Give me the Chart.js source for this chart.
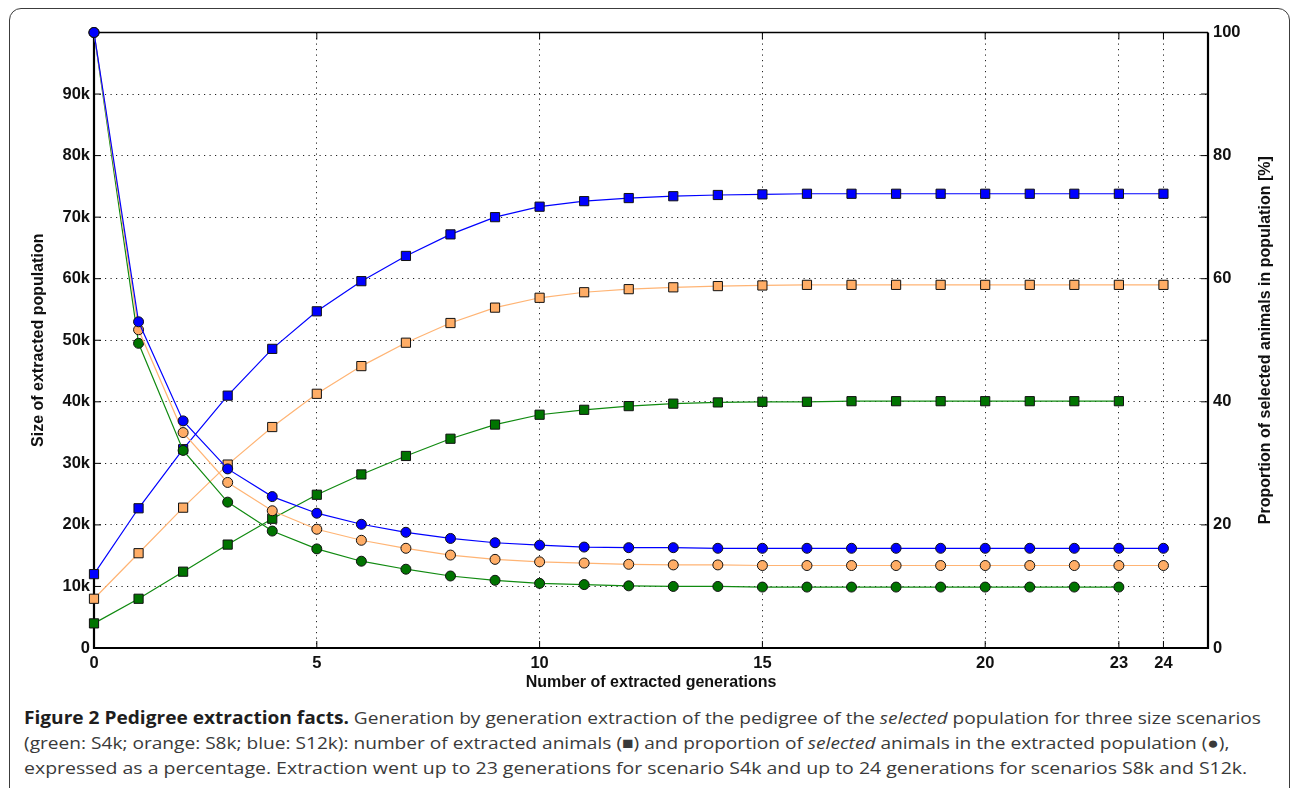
<!DOCTYPE html>
<html>
<head>
<meta charset="utf-8">
<title>Pedigree extraction facts</title>
<script src="https://cdn.jsdelivr.net/npm/chart.js@4.4.1/dist/chart.umd.min.js"></script>
<style>
  html, body { margin: 0; padding: 0; background: #fff; overflow: hidden; }
  body { width: 1292px; height: 788px; position: relative; }
  .box {
    position: absolute; left: 9px; top: 8px; width: 1281px; height: 840px;
    border: 1.5px solid #3c3c3c; border-radius: 12px; box-sizing: border-box;
  }
  #chartWrap { position: absolute; left: 0; top: 0; width: 1292px; height: 700px; }
  .caption {
    position: absolute; left: 24px; top: 705px;
    font-family: "Open Sans", sans-serif; font-size: 17px; line-height: 25px;
    color: #3a3a3a; white-space: nowrap;
    transform: scaleX(1.124); transform-origin: 0 0;
  }
  .caption div { transform-origin: 0 0; }
  .caption .wide { transform: scaleX(1.02); }
  .caption b { color: #1e1e1e; font-weight: 700; }
</style>
</head>
<body>
<div class="box"></div>
<div id="chartWrap"><canvas id="pedigreeChart" width="1292" height="700"></canvas></div>
<div class="caption">
  <div><b>Figure 2 Pedigree extraction facts.</b> Generation by generation extraction of the pedigree of the <i>selected</i> population for three size scenarios</div>
  <div>(green: S4k; orange: S8k; blue: S12k): number of extracted animals (&#9632;) and proportion of <i>selected</i> animals in the extracted population (&#9679;),</div>
  <div class="wide">expressed as a percentage. Extraction went up to 23 generations for scenario S4k and up to 24 generations for scenarios S8k and S12k.</div>
</div>

<script>
// ---- data ----
const generations = [0, 1, 2, 3, 4, 5, 6, 7, 8, 9, 10, 11, 12, 13, 14, 15, 16, 17, 18, 19, 20, 21, 22, 23, 24];
const generationsS4k = [0, 1, 2, 3, 4, 5, 6, 7, 8, 9, 10, 11, 12, 13, 14, 15, 16, 17, 18, 19, 20, 21, 22, 23];

// size of extracted population, thousands of animals
const sizeS4k = [4.0, 8.0, 12.4, 16.8, 21.0, 24.9, 28.2, 31.2, 34.0, 36.3, 37.9, 38.7, 39.3, 39.7, 39.9, 40.0, 40.0, 40.1, 40.1, 40.1, 40.1, 40.1, 40.1, 40.1];
const sizeS8k = [8.0, 15.4, 22.8, 29.8, 35.9, 41.3, 45.8, 49.6, 52.8, 55.3, 56.9, 57.8, 58.3, 58.6, 58.8, 58.9, 59.0, 59.0, 59.0, 59.0, 59.0, 59.0, 59.0, 59.0, 59.0];
const sizeS12k = [12.0, 22.7, 32.3, 41.0, 48.6, 54.7, 59.6, 63.7, 67.2, 70.0, 71.7, 72.6, 73.1, 73.4, 73.6, 73.7, 73.8, 73.8, 73.8, 73.8, 73.8, 73.8, 73.8, 73.8, 73.8];

// proportion of selected animals in extracted population, %
const propS4k = [100, 49.5, 32.1, 23.7, 19.0, 16.1, 14.1, 12.8, 11.7, 11.0, 10.5, 10.3, 10.1, 10.0, 10.0, 9.9, 9.9, 9.9, 9.9, 9.9, 9.9, 9.9, 9.9, 9.9];
const propS8k = [100, 51.7, 35.0, 26.9, 22.3, 19.3, 17.5, 16.2, 15.1, 14.4, 14.0, 13.8, 13.6, 13.5, 13.5, 13.4, 13.4, 13.4, 13.4, 13.4, 13.4, 13.4, 13.4, 13.4, 13.4];
const propS12k = [100, 53.0, 36.9, 29.1, 24.6, 21.9, 20.1, 18.8, 17.8, 17.1, 16.7, 16.4, 16.3, 16.3, 16.2, 16.2, 16.2, 16.2, 16.2, 16.2, 16.2, 16.2, 16.2, 16.2, 16.2];

const xTicks = [0, 5, 10, 15, 20, 23, 24];
const leftTicks = [0, 10, 20, 30, 40, 50, 60, 70, 80, 90, 100];
const rightTicks = [0, 10, 20, 30, 40, 50, 60, 70, 80, 90, 100];

// ---- colours ----
const BLUE = { line: "#0000ff", fill: "#0000ff" };
const ORANGE = { line: "#ffb474", fill: "#ffad66" };
const GREEN = { line: "#108a10", fill: "#007400" };

const rightTitle = "Proportion of selected animals in population [%]";

function toPoints(xs, ys) {
  return xs.map((x, i) => ({ x: x, y: ys[i] }));
}

function series(label, xs, ys, col, style, axis, order) {
  return {
    label: label,
    data: toPoints(xs, ys),
    yAxisID: axis,
    order: order,
    borderColor: col.line,
    borderWidth: 1.2,
    backgroundColor: col.fill,
    pointBackgroundColor: col.fill,
    pointBorderColor: "#111",
    pointBorderWidth: 1,
    pointStyle: style,
    pointRadius: style === "rect" ? 6.5 : 5,
    tension: 0,
    fill: false,
    clip: false,
  };
}

const tickFont = { family: "'Liberation Sans', Arial, sans-serif", size: 16.5, weight: "bold" };
const titleFont = { family: "'Liberation Sans', Arial, sans-serif", size: 16, weight: "bold" };
const gridDots = { dash: [1.2, 4.3], display: false };

// frame + inward ticks (matlab look), right title reads bottom-to-top
const framePlugin = {
  id: "frame",
  beforeDatasetsDraw(chart) {
    const { ctx, chartArea: a, scales } = chart;
    ctx.save();
    ctx.strokeStyle = "#000";
    ctx.lineWidth = 1.3;
    ctx.beginPath();
    ctx.moveTo(a.left, a.top);
    ctx.lineTo(a.right, a.top);
    ctx.stroke();

    ctx.lineWidth = 1;
    const tl = 7;
    scales.y.ticks.forEach((t) => {
      const py = scales.y.getPixelForValue(t.value);
      ctx.beginPath(); ctx.moveTo(a.left, py); ctx.lineTo(a.left + tl, py); ctx.stroke();
    });
    scales.y2.ticks.forEach((t) => {
      const py = scales.y2.getPixelForValue(t.value);
      ctx.beginPath(); ctx.moveTo(a.right, py); ctx.lineTo(a.right - tl, py); ctx.stroke();
    });
    scales.x.ticks.forEach((t) => {
      const px = scales.x.getPixelForValue(t.value);
      ctx.beginPath(); ctx.moveTo(px, a.bottom); ctx.lineTo(px, a.bottom - tl); ctx.stroke();
      ctx.beginPath(); ctx.moveTo(px, a.top); ctx.lineTo(px, a.top + tl); ctx.stroke();
    });

    ctx.lineWidth = 2.2;
    ctx.beginPath();
    ctx.moveTo(a.left, a.top);
    ctx.lineTo(a.left, a.bottom);
    ctx.lineTo(a.right, a.bottom);
    ctx.lineTo(a.right, a.top);
    ctx.stroke();
    ctx.restore();
  },
  afterDraw(chart) {
    const { ctx, chartArea: a } = chart;
    ctx.save();
    ctx.translate(chart.width - 26.5, (a.top + a.bottom) / 2);
    ctx.rotate(-Math.PI / 2);
    ctx.font = "bold 16px 'Liberation Sans', Arial, sans-serif";
    ctx.fillStyle = "#111";
    ctx.textAlign = "center";
    ctx.textBaseline = "middle";
    ctx.fillText(rightTitle, 0, 0);
    ctx.restore();
  },
};

new Chart(document.getElementById("pedigreeChart"), {
  type: "line",
  data: {
    datasets: [
      series("S12k selected %", generations, propS12k, BLUE, "circle", "y2", 0),
      series("S8k selected %", generations, propS8k, ORANGE, "circle", "y2", 1),
      series("S4k selected %", generationsS4k, propS4k, GREEN, "circle", "y2", 2),
      series("S4k size", generationsS4k, sizeS4k, GREEN, "rect", "y", 3),
      series("S8k size", generations, sizeS8k, ORANGE, "rect", "y", 4),
      series("S12k size", generations, sizeS12k, BLUE, "rect", "y", 5),
    ],
  },
  options: {
    responsive: false,
    animation: false,
    devicePixelRatio: 1,
    layout: { padding: { top: 32.5, left: 0, right: 0, bottom: 0 } },
    plugins: { legend: { display: false }, tooltip: { enabled: false } },
    scales: {
      x: {
        type: "linear",
        min: 0,
        max: 25,
        afterBuildTicks: (s) => { s.ticks = xTicks.map((v) => ({ value: v })); },
        afterFit: (s) => { s.height = 52; },
        grid: { color: "#222", lineWidth: 1, drawTicks: false },
        border: gridDots,
        ticks: { font: tickFont, color: "#111", padding: 6, autoSkip: false, maxRotation: 0 },
        title: { display: true, text: "Number of extracted generations", font: titleFont, color: "#111", padding: { top: 0, bottom: 8 } },
      },
      y: {
        position: "left",
        min: 0,
        max: 100,
        afterBuildTicks: (s) => { s.ticks = leftTicks.map((v) => ({ value: v })); },
        afterFit: (s) => { s.width = 94; },
        grid: { color: "#222", lineWidth: 1, drawTicks: false },
        border: gridDots,
        ticks: {
          font: tickFont, color: "#111", padding: 4,
          callback: (v) => (v === 100 ? "" : v === 0 ? "0" : v + "k"),
        },
        title: { display: true, text: "Size of extracted population", font: titleFont, color: "#111", padding: { top: 28.5, bottom: 0 } },
      },
      y2: {
        position: "right",
        min: 0,
        max: 100,
        afterBuildTicks: (s) => { s.ticks = rightTicks.map((v) => ({ value: v })); },
        afterFit: (s) => { s.width = 84; },
        grid: { drawOnChartArea: false, drawTicks: false },
        border: { display: false },
        ticks: {
          font: tickFont, color: "#111", padding: 5,
          callback: (v) => (v % 20 === 0 ? String(v) : ""),
        },
        title: { display: false },
      },
    },
  },
  plugins: [framePlugin],
});
</script>
</body>
</html>
